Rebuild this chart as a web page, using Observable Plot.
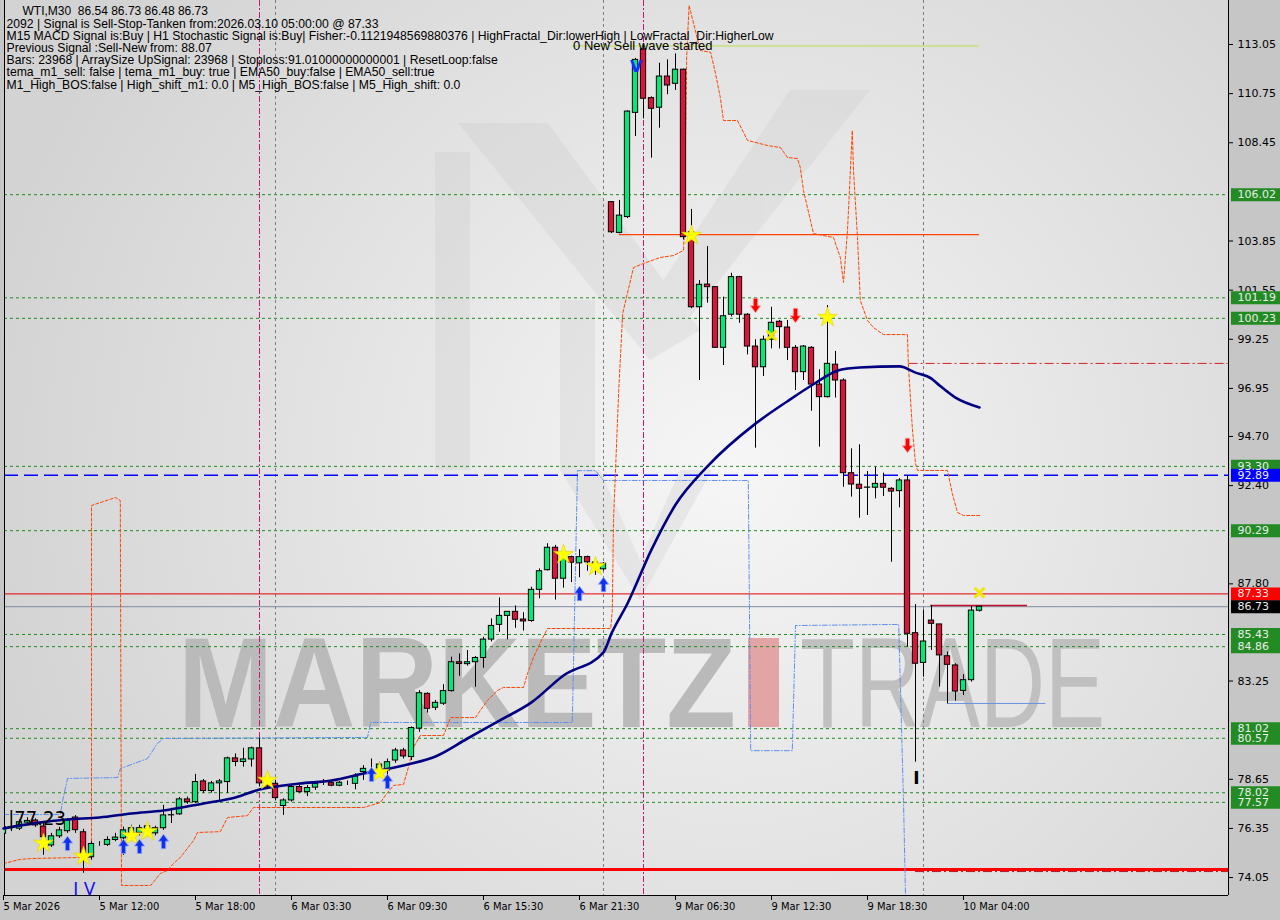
<!DOCTYPE html>
<html><head><meta charset="utf-8">
<script src="https://cdn.jsdelivr.net/npm/d3@7"></script>
<script src="https://cdn.jsdelivr.net/npm/@observablehq/plot@0.6"></script>
<style>
html,body{margin:0;padding:0;background:#c6c6c6;}
#wrap{position:relative;width:1280px;height:920px;overflow:hidden;background:#c6c6c6;}
#bg{position:absolute;left:0;top:0;}
#chart{position:absolute;left:0;top:0;}
</style></head><body>
<div id="wrap"><svg id="bg" width="1280" height="920"></svg><div id="chart"></div></div>
<script>
// ---------------- DATA ----------------
const symbolTitle = "WTI,M30  86.54 86.73 86.48 86.73";
const infoLines = [
  "2092 | Signal is Sell-Stop-Tanken from:2026.03.10 05:00:00 @ 87.33",
  "M15 MACD Signal is:Buy | H1 Stochastic Signal is:Buy| Fisher:-0.1121948569880376 | HighFractal_Dir:lowerHigh | LowFractal_Dir:HigherLow",
  "Previous Signal :Sell-New from: 88.07",
  "Bars: 23968 | ArraySize UpSignal: 23968 | Stoploss:91.01000000000001 | ResetLoop:false",
  "tema_m1_sell: false | tema_m1_buy: true | EMA50_buy:false | EMA50_sell:true",
  "M1_High_BOS:false | High_shift_m1: 0.0 | M5_High_BOS:false | M5_High_shift: 0.0"
];
// OHLC per M30 bar (bar index = position in arrays)
const open  = [76.10,76.41,76.34,76.62,76.72,76.44,75.55,75.98,76.22,76.86,76.17,75.00,75.62,75.58,75.81,75.89,76.12,76.14,76.17,76.12,
 76.36,76.96,77.01,77.71,77.58,78.55,78.10,78.46,78.52,79.63,79.46,79.58,80.10,78.46,78.44,77.40,77.66,78.29,78.05,78.26,
 78.52,78.47,78.35,78.49,78.44,78.99,79.30,79.16,79.06,79.53,80.00,79.69,81.02,82.65,82.00,82.19,82.78,84.13,84.04,84.13,
 84.33,85.19,85.88,86.30,86.49,86.13,86.06,87.52,88.44,89.49,88.04,89.05,88.76,89.05,88.80,88.48,105.67,104.23,104.97,109.85,
 112.82,110.54,110.09,111.55,111.21,111.87,104.26,100.75,101.81,101.69,98.85,100.40,102.16,100.40,98.91,97.94,99.23,100.07,99.80,98.85,
 97.71,98.85,97.13,96.54,98.06,97.32,92.98,92.44,92.30,92.30,92.48,92.25,92.14,92.64,85.49,84.10,86.08,85.90,84.41,83.98,
 82.79,83.29,86.54];
const high  = [76.55,76.60,76.75,76.85,76.80,76.58,76.12,76.40,76.81,76.95,76.31,75.73,75.73,75.96,76.12,76.41,76.50,76.50,76.55,76.45,
 77.43,77.29,77.80,77.82,78.88,78.64,78.55,78.64,79.69,79.84,80.10,80.16,80.57,78.60,78.60,77.74,78.36,78.40,78.36,78.52,
 78.64,78.55,78.55,78.57,78.91,79.29,79.60,79.45,79.60,80.10,80.10,81.10,82.80,82.70,82.34,83.08,84.37,84.52,84.68,84.40,
 85.30,86.16,87.14,86.50,86.77,86.45,87.64,88.50,89.68,89.60,89.30,89.10,89.40,89.10,88.85,88.80,105.70,105.75,109.95,112.40,
 113.00,110.60,112.17,112.33,112.61,111.90,105.33,102.00,103.59,101.70,101.22,102.34,102.20,100.45,99.23,99.40,100.75,100.13,100.13,98.96,
 98.96,98.90,97.82,100.83,98.68,97.40,94.12,94.31,93.06,93.26,92.98,92.30,92.72,92.87,86.83,86.58,86.79,85.90,84.61,84.06,
 83.55,86.74,86.73];
const low   = [75.95,76.20,76.25,76.50,76.40,75.09,75.46,75.88,76.12,76.12,74.25,74.86,75.51,75.51,75.73,75.09,76.00,76.00,76.05,76.00,
 76.26,76.58,76.96,77.48,77.52,77.99,78.00,77.66,77.99,79.24,79.22,79.22,78.29,78.20,77.66,76.96,77.58,78.00,77.84,78.13,
 78.36,78.30,78.30,78.36,78.16,78.60,79.00,79.00,78.75,79.40,79.60,79.53,80.85,81.75,81.87,82.11,82.73,83.47,83.95,82.96,
 83.85,85.08,85.53,85.18,85.72,85.59,86.00,87.10,88.40,87.04,87.60,87.86,88.09,88.39,88.20,88.40,104.20,104.19,104.90,108.74,
 109.57,107.73,109.13,110.70,110.90,103.90,100.68,97.32,100.94,98.85,98.02,100.30,100.00,98.52,94.15,97.51,98.80,98.80,98.26,96.85,
 97.32,95.88,94.20,96.50,96.50,92.32,91.86,90.87,91.00,91.78,91.89,88.81,91.36,84.83,79.45,83.43,84.68,82.97,82.19,82.31,
 82.57,83.20,86.48];
const close = [76.41,76.38,76.64,76.70,76.49,75.94,75.98,76.26,76.72,76.27,75.09,75.62,75.62,75.81,75.92,76.26,76.36,76.36,76.45,76.36,
 76.96,76.97,77.71,77.58,78.52,78.10,78.46,78.55,79.63,79.46,79.58,80.10,78.46,78.31,77.77,77.66,78.29,78.05,78.24,78.44,
 78.52,78.35,78.49,78.49,78.78,79.14,79.30,79.34,79.45,80.00,79.72,81.05,82.68,81.95,82.23,82.78,84.13,84.05,84.13,84.33,
 85.19,85.83,86.30,86.49,86.12,86.04,87.52,88.39,89.49,88.04,89.05,88.79,89.05,88.81,88.60,88.74,104.26,105.04,109.91,112.33,
 110.51,110.04,111.55,111.13,111.87,104.03,100.75,101.80,101.69,98.85,100.33,102.16,100.40,98.91,97.94,99.23,100.02,99.82,98.85,97.71,
 98.91,97.13,96.54,98.10,97.32,92.98,92.45,92.25,92.31,92.48,92.30,92.12,92.64,85.46,84.06,85.10,85.93,84.45,84.01,82.76,
 83.29,86.55,86.73];

// EMA50 (navy line)
const emaBar = [0,4,8,12,16,20,25,29,32,37,41,45,50,54,58,62,66,70,75,76,78,81,84,88,94,98,101.4,104.4,107,112,114,116,117,119,122];
const emaVal = [76.35,76.60,76.77,76.86,77.05,77.19,77.52,77.80,78.17,78.45,78.59,78.92,79.30,79.72,80.56,81.40,82.25,83.51,84.59,85.48,86.88,89.40,91.50,93.30,95.30,96.35,97.18,97.80,97.93,97.98,97.69,97.41,97.09,96.52,96.06];

// Orange-red dashed trailing band
const orangeBar = [0,2.1,3.4,9.6,11,11,14,14.6,14.75,18.4,19.6,20.5,21.25,22.1,23.75,24.25,27.1,28,30.5,31.25,45,47.1,48,48.75,50,50.5,51.25,52.1,55,55.9,59,59.6,60.5,61.75,62.5,65,65.5,66.25,67.1,68,75.9,76.1,76.25,76.9,77.4,78.75,80,82.1,83.75,85,85.1,85.4,85.7,87.1,88.4,89,89.6,90,91.75,93,95.5,97.1,98,99.25,99.6,100,101.25,103.75,104.6,105,105.5,106.1,106.25,106.75,107.1,108,108.75,110,113,113.1,113.6,114,114.25,118,118.6,119.25,120,122.1];
const orangeVal = [74.71,74.90,74.94,74.99,74.99,91.47,91.84,91.70,73.68,73.68,74.24,74.38,74.71,74.99,75.78,76.16,76.20,76.86,76.95,77.33,77.33,77.56,78.03,78.36,78.41,79.06,80.14,80.70,80.70,81.54,81.54,81.87,82.34,82.81,82.95,82.95,83.60,84.35,85.05,85.71,85.71,86.55,90.77,96.85,100.46,102.61,102.80,103.08,103.17,103.41,104.34,112.53,114.88,112.77,112.68,111.69,110.57,109.49,109.49,108.56,108.32,108.23,107.76,107.71,107.29,106.21,104.20,104.01,103.08,101.91,104.34,109.02,107.15,104.01,101.07,100.13,99.80,99.47,99.47,98.12,95.12,93.43,93.11,93.11,92.03,91.14,91.00,91.00];

// Blue dash-dot band
const blueBar = [0,7.1,7.4,8,14.25,14.6,18,19.25,20,45.5,45.9,71.1,71.75,74,75,93.1,93.4,98.6,99,111.9,112.5,112.75];
const blueVal = [77.00,77.00,77.66,78.69,78.73,79.15,79.62,80.33,80.56,80.61,81.31,81.31,93.10,93.10,92.64,92.64,79.99,79.99,85.85,85.90,77.66,73.21];

// Horizontal levels
const greenLevels = [106.02,101.19,100.23,93.30,90.29,85.43,84.86,81.02,80.57,78.02,77.57];
const blueLevel = 92.89, signalLevel = 87.33, lastPrice = 86.73, supportLevel = 74.43;
// Partial horizontal segments: value, from bar, to bar
const segVal  = [104.15, 112.98, 98.12, 86.79, 82.20, 74.33];
const segFrom = [77, 71.1, 113.2, 115.9, 118, 114];
const segTo   = [122, 122, 153.1, 128, 130.3, 153.1];

// Vertical separators (bar index)
const magentaBars = [32, 80];
const grayBars = [34, 75, 115];

// Markers
const starBar = [5,10,16,18,33,47,70,74,86,103];
const starVal = [75.65,75.04,76.00,76.20,78.60,78.97,89.17,88.61,104.11,100.27];
const crossBar = [96,122];
const crossVal = [99.43,87.39];
const upBar = [8,15,17,20,46,48,72,75];
const upVal = [75.65,75.51,75.51,75.74,78.88,78.55,87.35,87.77];
const downBar = [94,99,113];
const downVal = [100.83,100.36,94.28];

// Right price axis (labels fully hidden behind level boxes are omitted, as in the reference)
const priceTicks = [113.05,110.75,108.45,103.85,101.55,99.25,96.95,94.70,92.40,87.80,83.25,78.65,76.35,74.05];
const boxVals   = [106.02,101.19,100.23,93.30,92.89,90.29,87.33,86.73,85.43,84.86,81.02,80.57,78.02,77.57];
const boxColors = ["#238b23","#238b23","#238b23","#238b23","#0000ff","#238b23","#ff0000","#000000","#238b23","#238b23","#238b23","#238b23","#238b23","#238b23"];

// Time axis
const timeTickBars = [0,12,24,36,48,60,72,84,96,108,120];
const timeTickLabels = ["5 Mar 2026","5 Mar 12:00","5 Mar 18:00","6 Mar 03:30","6 Mar 09:30","6 Mar 15:30","6 Mar 21:30","9 Mar 06:30","9 Mar 12:30","9 Mar 18:30","10 Mar 04:00"];

// Text annotations
const notes = [
  {bar: 71.2, val: 112.98, text: "0 New Sell wave started", color: "#000", size: 13, weight: "normal", anchor: "start", font: "Liberation Sans"},
  {bar: 0.6, val: 76.83, text: "|77.23", color: "#000", size: 20, weight: "normal", anchor: "start", font: "DejaVu Sans Condensed"},
  {bar: 10.1, val: 73.50, text: "I V", color: "#1010ff", size: 17, weight: "normal", anchor: "middle", font: "DejaVu Sans"},
  {bar: 79.1, val: 112.02, text: "V", color: "#1030ff", size: 16, weight: "bold", anchor: "middle", font: "DejaVu Sans"},
  {bar: 114.1, val: 78.69, text: "I", color: "#000", size: 17, weight: "bold", anchor: "middle", font: "DejaVu Sans"}
];

// ---------------- BACKGROUND (decoration) ----------------
const bg = d3.select("#bg");
const defs = bg.append("defs");
const g = defs.append("radialGradient").attr("id","plotbg").attr("gradientUnits","userSpaceOnUse")
  .attr("cx",730).attr("cy",470).attr("r",760);
g.append("stop").attr("offset","0").attr("stop-color","#f6f6f6");
g.append("stop").attr("offset","0.45").attr("stop-color","#e6e6e6");
g.append("stop").attr("offset","1").attr("stop-color","#d3d3d3");
bg.append("rect").attr("x",4).attr("y",0).attr("width",1224).attr("height",895).attr("fill","url(#plotbg)");
const logo = bg.append("g").attr("fill","#c8c8c8").attr("opacity",0.28);
logo.append("polygon").attr("points","435,152 470,152 470,470 435,470");
logo.append("polygon").attr("points","458,123 548,123 700,330 650,360");
logo.append("polygon").attr("points","790,90 870,90 680,330 650,300");
logo.append("polygon").attr("points","560,300 595,300 595,470 560,470");
logo.append("polygon").attr("points","560,470 600,470 640,560 680,470 712,470 640,600");
bg.append("text").attr("x",178).attr("y",727).attr("font-family","Liberation Sans").attr("font-weight","bold")
  .attr("font-size",128).attr("textLength",558).attr("lengthAdjust","spacingAndGlyphs").attr("fill","#bababa").text("MARKETZ");
bg.append("rect").attr("x",748).attr("y",638).attr("width",31).attr("height",89).attr("fill","#e2a4a4");
bg.append("text").attr("x",800).attr("y",727).attr("font-family","Liberation Sans")
  .attr("font-size",128).attr("textLength",305).attr("lengthAdjust","spacingAndGlyphs").attr("fill","#c0c0c0").text("TRADE");

// ---------------- CHART ----------------
const bars = open.map((o,k) => ({i:k, o, h:high[k], l:low[k], c:close[k]}));
const ema = emaBar.map((b,k) => ({i:b, v:emaVal[k]}));
const orange = orangeBar.map((b,k) => ({i:b, v:orangeVal[k]}));
const blue = blueBar.map((b,k) => ({i:b, v:blueVal[k]}));
const pts = (B,V) => B.map((b,k) => ({i:b, v:V[k]}));
const segs = segVal.map((v,k) => ({v, a:segFrom[k], b:segTo[k]}));
const boxes = boxVals.map((v,k) => ({v, color:boxColors[k]}));

const arrowUp = {draw(ctx,size){const r=Math.sqrt(size/Math.PI);const hw=r*0.85,sw=r*0.36,t=-r*1.2,hb=-r*0.05,b=r*1.2;
  ctx.moveTo(0,t);ctx.lineTo(hw,hb);ctx.lineTo(sw,hb);ctx.lineTo(sw,b);ctx.lineTo(-sw,b);ctx.lineTo(-sw,hb);ctx.lineTo(-hw,hb);ctx.closePath();}};
const arrowDown = {draw(ctx,size){const r=Math.sqrt(size/Math.PI);const hw=r*0.85,sw=r*0.36,t=r*1.2,hb=r*0.05,b=-r*1.2;
  ctx.moveTo(0,t);ctx.lineTo(hw,hb);ctx.lineTo(sw,hb);ctx.lineTo(sw,b);ctx.lineTo(-sw,b);ctx.lineTo(-sw,hb);ctx.lineTo(-hw,hb);ctx.closePath();}};

const xDomain = [0.125, 153.125];
const yDomain = [73.21, 115.11];

const marks = [
  Plot.ruleY(greenLevels, {stroke:"#1f8c1f", strokeDasharray:"3,3", strokeWidth:1}),
  Plot.ruleX(grayBars, {stroke:"#7c7c7c", strokeDasharray:"3,3"}),
  Plot.ruleX(magentaBars, {stroke:"#c71585", strokeDasharray:"6,2,2,2"}),
  Plot.ruleY([blueLevel], {stroke:"#0000ff", strokeDasharray:"14,6", strokeWidth:1.5}),
  Plot.ruleY([signalLevel], {stroke:"#e00000", strokeWidth:1}),
  Plot.ruleY([lastPrice], {stroke:"#7d8ca3", strokeWidth:1}),
  Plot.ruleY([supportLevel], {stroke:"#ff0000", strokeWidth:3}),
  Plot.ruleY([segs[0]], {y:"v", x1:"a", x2:"b", stroke:"#ff4500", strokeWidth:1.2}),
  Plot.ruleY([segs[1]], {y:"v", x1:"a", x2:"b", stroke:"#b8e04a", strokeWidth:1}),
  Plot.ruleY([segs[2]], {y:"v", x1:"a", x2:"b", stroke:"#d42020", strokeDasharray:"9,3,2,3", strokeWidth:1}),
  Plot.ruleY([segs[3]], {y:"v", x1:"a", x2:"b", stroke:"#c0102a", strokeWidth:1.5}),
  Plot.ruleY([segs[4]], {y:"v", x1:"a", x2:"b", stroke:"#6a93e0", strokeWidth:1}),
  Plot.ruleY([segs[5]], {y:"v", x1:"a", x2:"b", stroke:"#c01010", strokeDasharray:"9,3,2,3", strokeWidth:1}),
  Plot.line(blue, {x:"i", y:"v", stroke:"#5b8fef", strokeDasharray:"5,2,1,2", strokeWidth:1, clip:true}),
  Plot.line(orange, {x:"i", y:"v", stroke:"#ff4500", strokeDasharray:"3,2", strokeWidth:1, clip:true}),
  Plot.ruleX([xDomain[0], xDomain[1]], {stroke:"#000", strokeWidth:1}),
  Plot.ruleY([yDomain[0]], {stroke:"#000", strokeWidth:1}),
  Plot.ruleX(bars, {x:"i", y1:"l", y2:"h", stroke:"#000", strokeWidth:1, clip:true}),
  Plot.rect(bars, {x1:d=>d.i-0.33, x2:d=>d.i+0.33, y1:"o", y2:"c", fill:d=>d.c>=d.o?"#00ea7a":"#dc143c", stroke:"#000", strokeWidth:1, clip:true}),
  Plot.line(ema, {x:"i", y:"v", stroke:"#000080", strokeWidth:2.6, curve:"monotone-x"}),
  Plot.dot(pts(starBar,starVal), {x:"i", y:"v", symbol:"star", r:6.2, fill:"#ffff00", stroke:"#e0d000", strokeWidth:0.6}),
  Plot.dot(pts(crossBar,crossVal), {x:"i", y:"v", symbol:"times", r:4.5, stroke:"#f2e600", strokeWidth:3}),
  Plot.dot(pts(upBar,upVal), {x:"i", y:"v", symbol:arrowUp, r:6, fill:"#1030f0", stroke:"#8aa2ff", strokeWidth:0.8}),
  Plot.dot(pts(downBar,downVal), {x:"i", y:"v", symbol:arrowDown, r:6, fill:"#ff0000", stroke:"#ff9a9a", strokeWidth:0.8}),
  ...notes.map(n => Plot.text([n], {x:"bar", y:"val", text:"text", fill:n.color, fontSize:n.size, fontWeight:n.weight, textAnchor:n.anchor, fontFamily:n.font})),
  Plot.text([symbolTitle], {text:d=>d, frameAnchor:"top-left", dx:18, dy:6, lineAnchor:"top", textAnchor:"start", fontSize:12, fontFamily:"Liberation Sans", fill:"#000"}),
  Plot.text([infoLines.join("\n")], {text:d=>d, frameAnchor:"top-left", dx:2, dy:18.5, lineAnchor:"top", textAnchor:"start", fontSize:12.2, lineHeight:1.0, fontFamily:"Liberation Sans", fill:"#000"}),
  Plot.axisY(priceTicks, {anchor:"right", tickFormat:d=>d.toFixed(2), tickSize:4, tickPadding:5, fontSize:11, fontFamily:"DejaVu Sans", stroke:"#000", fill:"#000"}),
  Plot.axisX(timeTickBars, {anchor:"bottom", tickFormat:d=>timeTickLabels[timeTickBars.indexOf(d)], tickSize:5, tickPadding:2, textAnchor:"start", fontSize:11, fontFamily:"DejaVu Sans Condensed", stroke:"#000", fill:"#000"}),
  Plot.ruleY(boxes, {y:"v", stroke:"color", strokeWidth:13, insetLeft:1227, insetRight:-52}),
  Plot.text(boxes, {y:"v", text:d=>d.v.toFixed(2), frameAnchor:"right", dx:9, textAnchor:"start", fontSize:11, fontFamily:"DejaVu Sans", fill:"#ececec"})
];

const chart = Plot.plot({
  width:1280, height:920,
  marginLeft:4, marginRight:52, marginTop:0, marginBottom:25,
  x:{type:"linear", domain:xDomain, axis:null},
  y:{type:"linear", domain:yDomain, axis:null},
  style:{background:"transparent", fontFamily:"DejaVu Sans", fontSize:"11px", overflow:"visible"},
  marks
});
document.getElementById("chart").appendChild(chart);
</script></body></html>
